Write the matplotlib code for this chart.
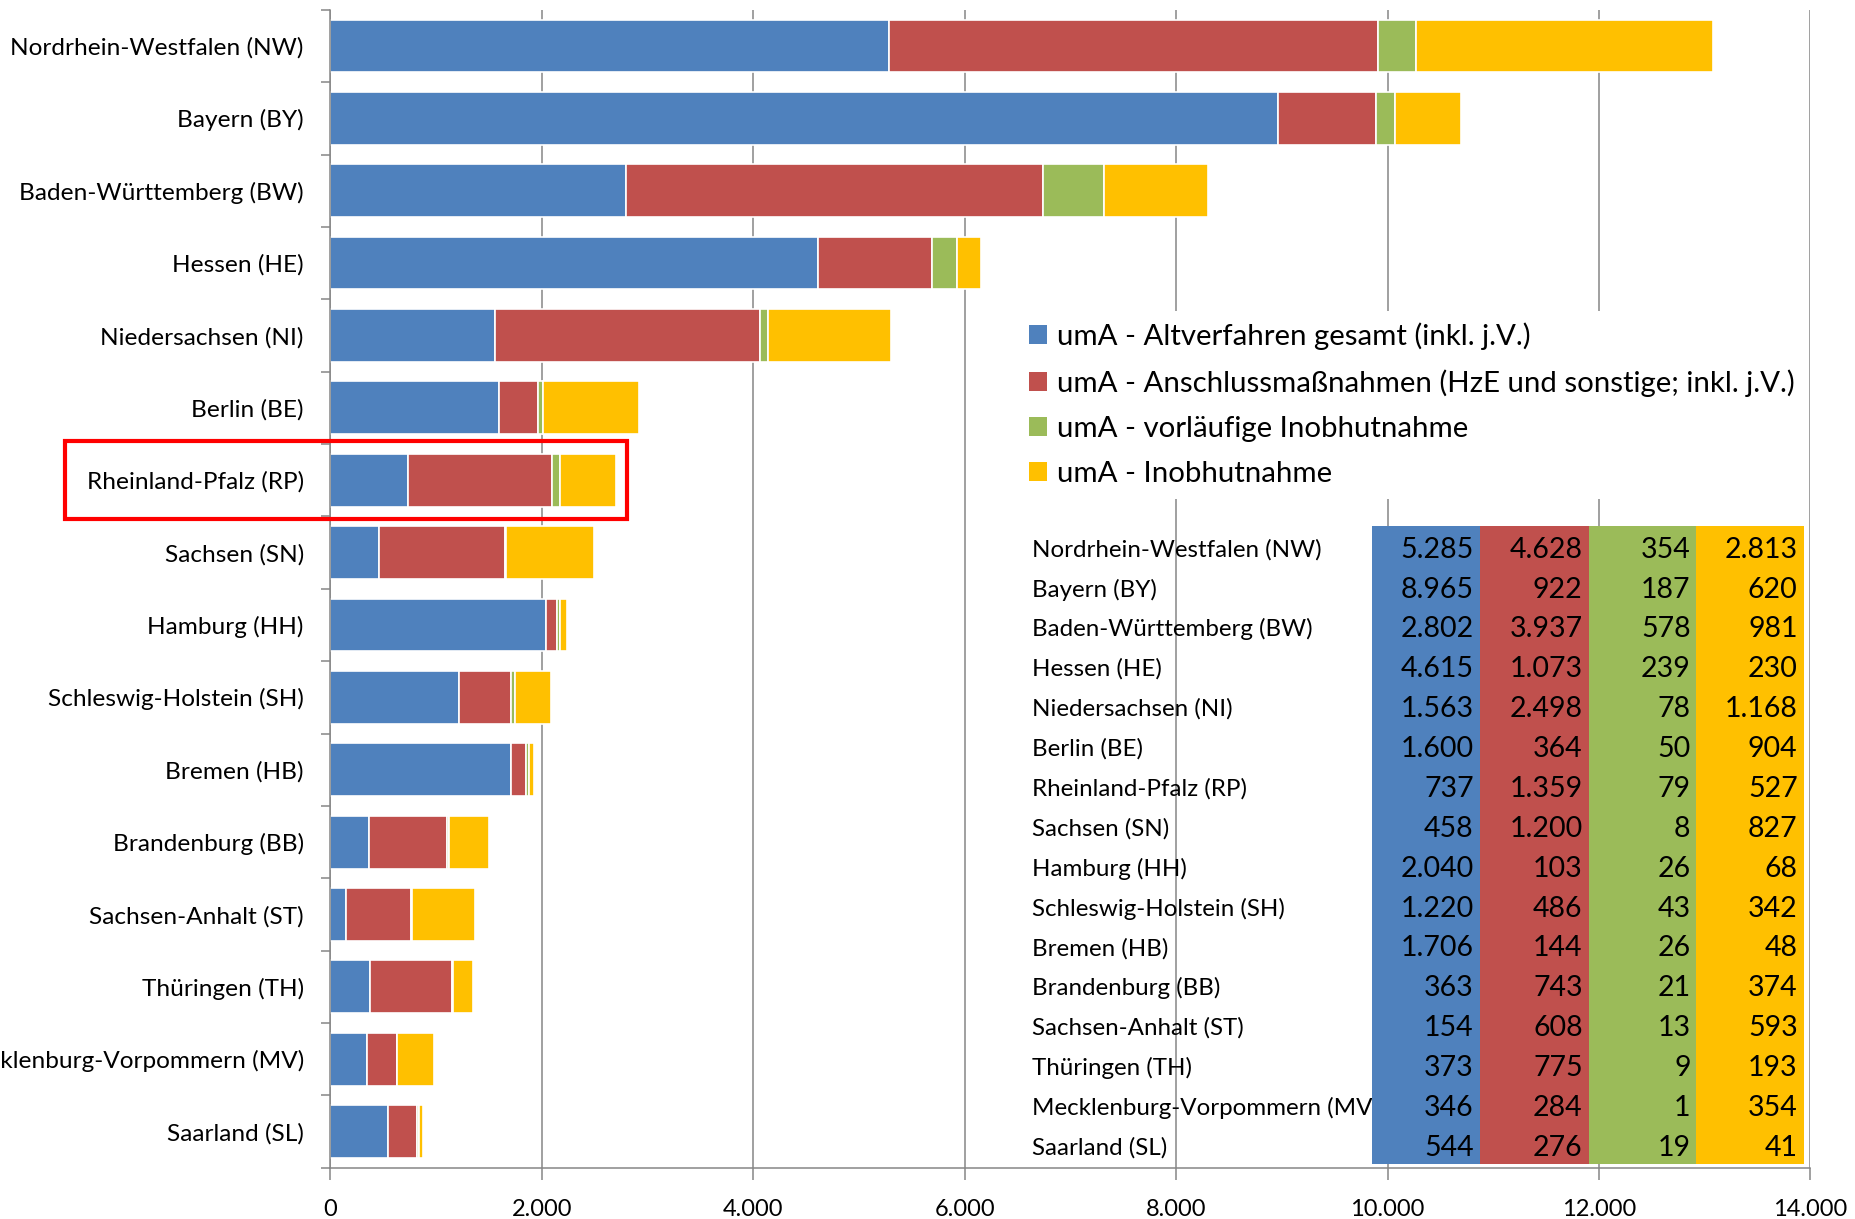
import matplotlib.pyplot as plt
import matplotlib.transforms as mtransforms
from matplotlib.patches import Rectangle, Patch
import numpy as np

plt.rcParams['font.family'] = ['Lato', 'DejaVu Sans']

# Data (Bundesländer, umA-Fallzahlen)
states = ['Nordrhein-Westfalen (NW)', 'Bayern (BY)', 'Baden-Württemberg (BW)', 'Hessen (HE)',
          'Niedersachsen (NI)', 'Berlin (BE)', 'Rheinland-Pfalz (RP)', 'Sachsen (SN)',
          'Hamburg (HH)', 'Schleswig-Holstein (SH)', 'Bremen (HB)', 'Brandenburg (BB)',
          'Sachsen-Anhalt (ST)', 'Thüringen (TH)', 'Mecklenburg-Vorpommern (MV)', 'Saarland (SL)']
altverfahren = [5285, 8965, 2802, 4615, 1563, 1600, 737, 458, 2040, 1220, 1706, 363, 154, 373, 346, 544]
anschluss = [4628, 922, 3937, 1073, 2498, 364, 1359, 1200, 103, 486, 144, 743, 608, 775, 284, 276]
vorlaeufig = [354, 187, 578, 239, 78, 50, 79, 8, 26, 43, 26, 21, 13, 9, 1, 19]
inobhut = [2813, 620, 981, 230, 1168, 904, 527, 827, 68, 342, 48, 374, 593, 193, 354, 41]

series_labels = ['umA - Altverfahren gesamt (inkl. j.V.)',
                 'umA - Anschlussmaßnahmen (HzE und sonstige; inkl. j.V.)',
                 'umA - vorläufige Inobhutnahme',
                 'umA - Inobhutnahme']
series_colors = ['#4F81BD', '#C0504D', '#9BBB59', '#FFC000']
series = [altverfahren, anschluss, vorlaeufig, inobhut]
x_ticks = [0, 2000, 4000, 6000, 8000, 10000, 12000, 14000]

highlight = 'Rheinland-Pfalz (RP)'


def de_format(v):
    return f'{v:,}'.replace(',', '.')


fig = plt.figure(figsize=(18.55, 12.19), dpi=100)
ax = fig.add_axes([0.178, 0.042, 0.798, 0.950])

y = np.arange(len(states))
left = np.zeros(len(states))
for vals, col, lab in zip(series, series_colors, series_labels):
    ax.barh(y, vals, left=left, height=0.73, color=col, edgecolor='white',
            linewidth=1.2, label=lab, zorder=2)
    left += np.array(vals)

ax.set_xlim(0, 14000)
ax.set_ylim(len(states) - 0.5, -0.5)
ax.set_xticks(x_ticks)
ax.set_xticklabels([de_format(t) for t in x_ticks], fontsize=17)
ax.set_yticks(y)
ax.set_yticklabels(states, fontsize=17.6)
ax.set_yticks(np.arange(len(states) + 1) - 0.5, minor=True)

ax.grid(axis='x', color='#868686', linewidth=1.1, zorder=0.5)
ax.set_axisbelow(True)
for s in ['top', 'right']:
    ax.spines[s].set_visible(False)
for s in ['left', 'bottom']:
    ax.spines[s].set_color('#868686')
    ax.spines[s].set_linewidth(1.1)
ax.tick_params(axis='y', which='major', length=0, pad=19)
ax.tick_params(axis='y', which='minor', length=6.5, color='#868686', width=1.1)
ax.tick_params(axis='x', length=8.5, color='#868686', width=1.1, pad=14)

# Legend
handles = [Patch(facecolor=c, edgecolor='none') for c in series_colors]
leg = ax.legend(handles, series_labels, loc='upper left', bbox_to_anchor=(0.464, 0.740),
                fontsize=21.2, frameon=True, facecolor='white', edgecolor='none', framealpha=1,
                fancybox=False, borderpad=0.4, handlelength=0.62, handleheight=0.62,
                handletextpad=0.32, labelspacing=0.65, borderaxespad=0)
leg.set_zorder(5)

# Data table in the plot
tab_top, tab_bottom = 0.554, 0.003
row_h = (tab_top - tab_bottom) / len(states)
col_edges = [0.7036, 0.7765, 0.8501, 0.9230, 0.9953]
label_x = 0.474
for i, name in enumerate(states):
    yc = tab_top - (i + 0.5) * row_h - 0.003
    ax.text(label_x, yc, name, transform=ax.transAxes, fontsize=17.4, ha='left',
            va='center', zorder=6)
for j, (vals, col) in enumerate(zip(series, series_colors)):
    ax.add_patch(Rectangle((col_edges[j], tab_bottom), col_edges[j + 1] - col_edges[j],
                           tab_top - tab_bottom, transform=ax.transAxes, facecolor=col,
                           edgecolor='none', zorder=7, clip_on=False))
    for i, v in enumerate(vals):
        yc = tab_top - (i + 0.5) * row_h - 0.003
        ax.text(col_edges[j + 1] - 0.004, yc, de_format(v), transform=ax.transAxes,
                fontsize=20.5, ha='right', va='center', zorder=8)

# Red frame around Rheinland-Pfalz
k = states.index(highlight)
trans = mtransforms.blended_transform_factory(ax.transAxes, ax.transData)
ax.add_patch(Rectangle((-0.179, k - 0.54), 0.3795, 1.08, transform=trans, fill=False,
                       edgecolor='red', linewidth=3, clip_on=False, zorder=9))

fig.savefig('out.png', dpi=100)
